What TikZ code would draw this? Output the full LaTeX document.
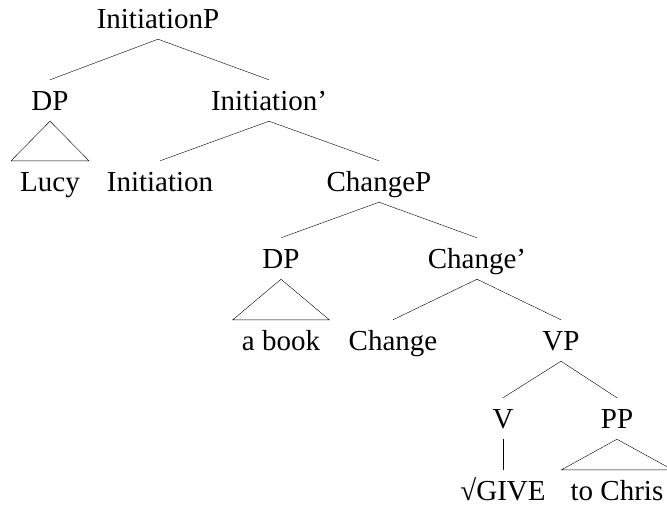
\documentclass[tikz,border=0pt]{standalone}
\usepackage{fontspec}
\setmainfont{Liberation Serif}
\usepackage{tikz}

\tikzset{
    lbl/.style={anchor=base, inner xsep=0pt, inner ysep=6pt, text height=24pt, text depth=5pt},
    roof/.style={lbl, inner xsep=9pt}
}

\begin{document}
\begin{tikzpicture}[x=1pt,y=-1pt,font=\fontsize{29}{34}\selectfont]
            % Fix the size of the page
            \useasboundingbox (0,0) rectangle (667,512);

            % Place the labels of the tree
            \node[lbl] (IP) at (158,28) {InitiationP};
            \node[lbl] (DP1) at (50,110) {DP};
            \node[lbl] (Ibar) at (269,110) {Initiation’};
            \node[roof] (Lucy) at (50,191) {Lucy};
            \node[lbl] (Init) at (160,191) {Initiation};
            \node[lbl] (CP) at (379,191) {ChangeP};
            \node[lbl] (DP2) at (281,268) {DP};
            \node[lbl] (Cbar) at (477,268) {Change’};
            \node[roof] (Book) at (281,350) {a book};
            \node[lbl] (Chg) at (393,350) {Change};
            \node[lbl] (VP) at (561,350) {VP};
            \node[lbl] (V) at (503,428) {V};
            \node[lbl] (PP) at (617,428) {PP};
            \node[lbl] (Give) at (503,500) {√GIVE};
            \node[roof] (Chris) at (617,500) {to Chris};

            % Draw branches
            \draw (IP.south) -- (DP1.north);
            \draw (IP.south) -- (Ibar.north);
            \draw (Ibar.south) -- (Init.north);
            \draw (Ibar.south) -- (CP.north);
            \draw (CP.south) -- (DP2.north);
            \draw (CP.south) -- (Cbar.north);
            \draw (Cbar.south) -- (Chg.north);
            \draw (Cbar.south) -- (VP.north);
            \draw (VP.south) -- (V.north);
            \draw (VP.south) -- (PP.north);
            \draw (V.south) -- (Give.north);

            % Draw triangles
            \draw (DP1.south) -- (Lucy.north west) -- (Lucy.north east) -- cycle;
            \draw (DP2.south) -- (Book.north west) -- (Book.north east) -- cycle;
            \draw (PP.south) -- (Chris.north west) -- (Chris.north east) -- cycle;
\end{tikzpicture}
\end{document}
